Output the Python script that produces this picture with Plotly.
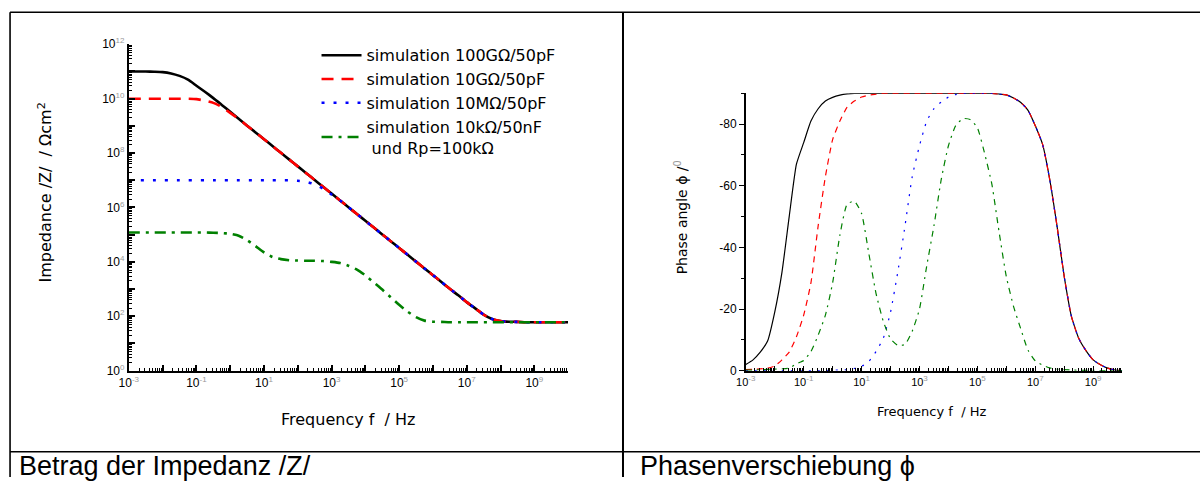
import plotly.graph_objects as go

# ---------------- data ----------------
FREQ_HZ = [1e-3, 1.78e-3, 3.16e-3, 5.62e-3, 1e-2, 1.78e-2, 3.16e-2, 5.62e-2,
           1e-1, 0.178, 0.316, 0.562, 1, 1.78, 3.16, 5.62, 10, 17.8, 31.6, 56.2,
           1e2, 178, 316, 562, 1e3, 1.78e3, 3.16e3, 5.62e3, 1e4, 1.78e4, 3.16e4, 5.62e4,
           1e5, 1.78e5, 3.16e5, 5.62e5, 1e6, 1.78e6, 3.16e6, 5.62e6, 1e7, 1.78e7, 3.16e7, 5.62e7,
           1e8, 1.78e8, 3.16e8, 5.62e8, 1e9, 1.78e9, 3.16e9, 5.62e9, 1e10]

# |Z| in Ohm cm^2
Z_100G = [1.0e11, 1.0e11, 1.0e11, 9.8e10, 9.5e10, 8.5e10, 6.9e10, 5.0e10, 3.0e10, 1.8e10,
          1.05e10, 5.9e9, 3.3e9, 1.82e9, 1.02e9, 5.75e8, 3.24e8, 1.82e8, 1.02e8, 5.75e7,
          3.24e7, 1.82e7, 1.02e7, 5.75e6, 3.24e6, 1.82e6, 1.02e6, 5.75e5, 3.24e5, 1.82e5,
          1.02e5, 5.75e4, 3.24e4, 1.82e4, 1.02e4, 5.75e3, 3.24e3, 1.82e3, 1.02e3, 589,
          331, 195, 115, 79, 66, 63, 62, 60, 60, 60, 60, 60, 60]
Z_10G = [1.0e10, 1.0e10, 1.0e10, 1.0e10, 1.0e10, 1.0e10, 1.0e10, 9.9e9, 9.6e9, 8.5e9,
         7.0e9, 5.0e9, 3.0e9, 1.8e9, 1.02e9, 5.75e8, 3.24e8, 1.82e8, 1.02e8, 5.75e7,
         3.24e7, 1.82e7, 1.02e7, 5.75e6, 3.24e6, 1.82e6, 1.02e6, 5.75e5, 3.24e5, 1.82e5,
         1.02e5, 5.75e4, 3.24e4, 1.82e4, 1.02e4, 5.75e3, 3.24e3, 1.82e3, 1.02e3, 589,
         331, 195, 115, 79, 66, 63, 62, 60, 60, 60, 60, 60, 60]
Z_10M = [1.0e7, 1.0e7, 1.0e7, 1.0e7, 1.0e7, 1.0e7, 1.0e7, 1.0e7, 1.0e7, 1.0e7,
         1.0e7, 1.0e7, 1.0e7, 1.0e7, 1.0e7, 1.0e7, 1.0e7, 1.0e7, 1.0e7, 1.0e7,
         9.6e6, 8.8e6, 7.1e6, 4.9e6, 3.0e6, 1.8e6, 1.02e6, 5.75e5, 3.24e5, 1.82e5,
         1.02e5, 5.75e4, 3.24e4, 1.82e4, 1.02e4, 5.75e3, 3.24e3, 1.82e3, 1.02e3, 589,
         331, 195, 115, 79, 66, 63, 62, 60, 60, 60, 60, 60, 60]
Z_10K = [1.2e5, 1.2e5, 1.2e5, 1.2e5, 1.2e5, 1.2e5, 1.2e5, 1.2e5, 1.2e5, 1.2e5,
         1.17e5, 1.15e5, 1.07e5, 9.1e4, 6.3e4, 3.8e4, 2.24e4, 1.51e4, 1.26e4, 1.15e4,
         1.12e4, 1.1e4, 1.1e4, 1.07e4, 1.0e4, 9.1e3, 7.2e3, 5.2e3, 3.2e3, 1.74e3,
         955, 501, 263, 148, 93, 69, 63, 62, 60, 60,
         60, 60, 60, 60, 60, 60, 60, 60, 60, 60, 60, 60, 60]

# phase angle in degrees
PH_100G = [-2, -3.5, -6, -9.5, -19, -32, -50, -67, -74, -81,
           -85, -87.5, -88.7, -89.4, -89.8, -90, -90, -90, -90, -90,
           -90, -90, -90, -90, -90, -90, -90, -90, -90, -90,
           -90, -90, -90, -90, -90, -89.8, -89.5, -88.5, -87, -84.5,
           -79.5, -73.5, -62, -47, -30.5, -17.5, -10.5, -6.5, -3.5, -1.9,
           -0.8, -0.2, 0]
PH_10G = [-0.3, -0.4, -0.6, -0.8, -1.5, -3.5, -6, -11, -18, -28.5,
          -47, -63, -75, -81, -85.5, -87.5, -88.8, -89.4, -89.7, -90,
          -90, -90, -90, -90, -90, -90, -90, -90, -90, -90,
          -90, -90, -90, -90, -90, -89.8, -89.5, -88.5, -87, -84.5,
          -79.5, -73.5, -62, -47, -30.5, -17.5, -10.5, -6.5, -3.5, -1.9,
          -0.8, -0.2, 0]
PH_10M = [0, 0, 0, 0, 0, 0, 0, 0, 0, 0,
          0, 0, -0.2, -0.2, -0.3, -0.7, -1.4, -3, -6.2, -10.5,
          -19, -32, -47, -63, -73, -81, -85, -87.2, -88.8, -89.6,
          -90, -90, -90, -90, -90, -89.8, -89.5, -88.5, -87, -84.5,
          -79.5, -73.5, -62, -47, -30.5, -17.5, -10.5, -6.5, -3.5, -1.9,
          -0.8, -0.2, 0]
PH_10K = [-0.2, -0.2, -0.3, -0.4, -0.5, -0.6, -0.8, -2.2, -3.3, -6.2,
          -11.5, -18, -28.5, -44, -54, -55, -51, -38, -25, -16,
          -10.3, -8.2, -8.5, -12.8, -20, -34, -47, -62, -73, -79.5,
          -81.8, -81.5, -78.8, -70.5, -60.5, -45, -30.5, -20.8, -13.5, -6.6,
          -3.2, -1.8, -0.9, -0.5, -0.3, -0.2, -0.1, -0.1, -0.1, 0,
          0, 0, 0]

SERIES_NAMES = ["simulation 100GΩ/50pF", "simulation 10GΩ/50pF",
                "simulation 10MΩ/50pF",
                "simulation 10kΩ/50nF<br>\u00a0und Rp=100kΩ"]
SERIES_COLORS = ["#000000", "#ff0000", "#0000ff", "#008000"]
SERIES_DASH = ["solid", "12px,8px", "3px,9px", "11px,6px,3px,6px"]
SERIES_DASH_R = ["solid", "6px,5px", "2px,7px", "6px,5px,2px,5px"]

X_LABEL_EXP = [-3, -1, 1, 3, 5, 7, 9]
Y_LABEL_EXP = [0, 2, 4, 6, 8, 10, 12]
PHASE_TICKS = [0, -20, -40, -60, -80]
CAPTIONS = ["Betrag der Impedanz /Z/", "Phasenverschiebung ϕ"]

# Figure size; the page keeps an 8px body margin and the page photo is
# scaled slightly, so reference pixel positions are mapped accordingly.
W, H = 1200, 484
PAGE_MARGIN = 8
SX, SY = 1200 / 1208, 484 / 500
FONT = "Liberation Sans, Arial, sans-serif"
WIDE = "DejaVu Sans, Verdana, sans-serif"


def px_x(p):
    return max(0.0, min(1.0, (p / SX - PAGE_MARGIN) / W))


def px_y(p):
    return max(0.0, min(1.0, 1 - (p / SY - PAGE_MARGIN) / H))


def pow_label(e, size):
    return "10<sup><span style='color:#9a9a9a;font-size:%dpx'>%d</span></sup>" % (size, e)


fig = go.Figure()

mag = [Z_100G, Z_10G, Z_10M, Z_10K]
pha = [PH_100G, PH_10G, PH_10M, PH_10K]
for i in range(4):
    fig.add_trace(go.Scatter(
        x=FREQ_HZ, y=mag[i], mode="lines", name=SERIES_NAMES[i],
        line=dict(color=SERIES_COLORS[i], width=2.6, dash=SERIES_DASH[i],
                  shape="spline", smoothing=0.5),
        xaxis="x", yaxis="y", legendgroup="g%d" % i))
for i in range(4):
    fig.add_trace(go.Scatter(
        x=FREQ_HZ, y=pha[i], mode="lines", showlegend=False,
        line=dict(color=SERIES_COLORS[i], width=1.2, dash=SERIES_DASH_R[i],
                  shape="spline", smoothing=0.5),
        xaxis="x2", yaxis="y2"))

decades = list(range(-3, 11))
x_major = [10.0 ** e for e in decades]
x_text = [pow_label(e, 8) if e in X_LABEL_EXP else "" for e in decades]
x_minor = [m * 10.0 ** e for e in range(-3, 10) for m in range(2, 10)]
y_dec = list(range(0, 13))
y_major = [10.0 ** e for e in y_dec]
y_text = [pow_label(e, 8) if e in Y_LABEL_EXP else "" for e in y_dec]
y_minor = [m * 10.0 ** e for e in range(0, 12) for m in range(2, 10)]

axis_common = dict(showgrid=False, zeroline=False, showline=True, linecolor="black",
                   tickcolor="black")

fig.update_layout(
    width=W, height=H, margin=dict(l=0, r=0, t=0, b=0),
    paper_bgcolor="white", plot_bgcolor="white",
    font=dict(family=FONT, color="black"),
    xaxis=dict(axis_common, type="log", range=[-3, 10],
               domain=[px_x(127), px_x(567)], anchor="y",
               linewidth=2, ticks="inside", ticklen=6, tickwidth=1.5,
               tickmode="array", tickvals=x_major, ticktext=x_text,
               tickfont=dict(size=12, family=FONT),
               minor=dict(ticks="inside", ticklen=3, tickwidth=1, tickcolor="black",
                          tickvals=x_minor)),
    yaxis=dict(axis_common, type="log", range=[0, 12],
               domain=[px_y(370), px_y(44)], anchor="x",
               linewidth=2, ticks="inside", ticklen=6, tickwidth=1.5,
               tickmode="array", tickvals=y_major, ticktext=y_text,
               tickfont=dict(size=12, family=FONT),
               minor=dict(ticks="inside", ticklen=3, tickwidth=1, tickcolor="black",
                          tickvals=y_minor)),
    xaxis2=dict(axis_common, type="log", range=[-3, 10],
                domain=[px_x(745), px_x(1122)], anchor="y2",
                linewidth=1.5, ticks="inside", ticklen=5, tickwidth=1.2,
                tickmode="array", tickvals=x_major, ticktext=x_text,
                tickfont=dict(size=11, family=FONT),
                minor=dict(ticks="inside", ticklen=3, tickwidth=1, tickcolor="black",
                           tickvals=x_minor)),
    yaxis2=dict(axis_common, range=[0, -90],
                domain=[px_y(370), px_y(93)], anchor="x2",
                linewidth=1.5, ticks="outside", ticklen=5, tickwidth=1.2,
                tickmode="array", tickvals=PHASE_TICKS,
                ticktext=[str(v) for v in PHASE_TICKS],
                tickfont=dict(size=12, family=FONT),
                minor=dict(ticks="outside", ticklen=3, tickwidth=1, tickcolor="black",
                           tickvals=[-10, -30, -50, -70, -90])),
    legend=dict(x=px_x(315), y=px_y(38), xanchor="left", yanchor="top",
                bgcolor="rgba(0,0,0,0)", borderwidth=0,
                font=dict(family=WIDE, size=16),
                tracegroupgap=0, itemwidth=40),
)

annotations = [
    dict(text="Frequency f  / Hz", x=px_x(347), y=px_y(419), xref="paper", yref="paper",
         showarrow=False, xanchor="center", yanchor="middle",
         font=dict(family=WIDE, size=16)),
    dict(text="Impedance /Z/  / Ωcm<sup>2</sup>", x=px_x(43), y=px_y(192),
         xref="paper", yref="paper", showarrow=False, textangle=-90,
         xanchor="center", yanchor="middle", font=dict(family=WIDE, size=16)),
    dict(text="Frequency f  / Hz", x=px_x(931), y=px_y(411), xref="paper", yref="paper",
         showarrow=False, xanchor="center", yanchor="middle",
         font=dict(family=WIDE, size=13)),
    dict(text="Phase angle ϕ /<sup><span style='color:#9a9a9a'>0</span></sup>",
         x=px_x(681), y=px_y(217), xref="paper", yref="paper", showarrow=False,
         textangle=-90, xanchor="center", yanchor="middle",
         font=dict(family=WIDE, size=14)),
    dict(text=CAPTIONS[0], x=px_x(15), y=px_y(465), xref="paper", yref="paper",
         showarrow=False, xanchor="left", yanchor="middle",
         font=dict(family=FONT, size=27)),
    dict(text=CAPTIONS[1], x=px_x(637), y=px_y(465), xref="paper", yref="paper",
         showarrow=False, xanchor="left", yanchor="middle",
         font=dict(family=FONT, size=27)),
]
fig.update_layout(annotations=annotations)

line = dict(color="black", width=1.6)
shapes = [
    dict(type="line", xref="paper", yref="paper", x0=px_x(8), x1=1, y0=px_y(12), y1=px_y(12), line=line),
    dict(type="line", xref="paper", yref="paper", x0=px_x(8), x1=px_x(8), y0=px_y(12), y1=0, line=line),
    dict(type="line", xref="paper", yref="paper", x0=px_x(622), x1=px_x(622), y0=px_y(12), y1=0,
         line=dict(color="black", width=2)),
    dict(type="line", xref="paper", yref="paper", x0=px_x(8), x1=1, y0=px_y(451), y1=px_y(451), line=line),
]
fig.update_layout(shapes=shapes)

fig.write_html("out.html")
